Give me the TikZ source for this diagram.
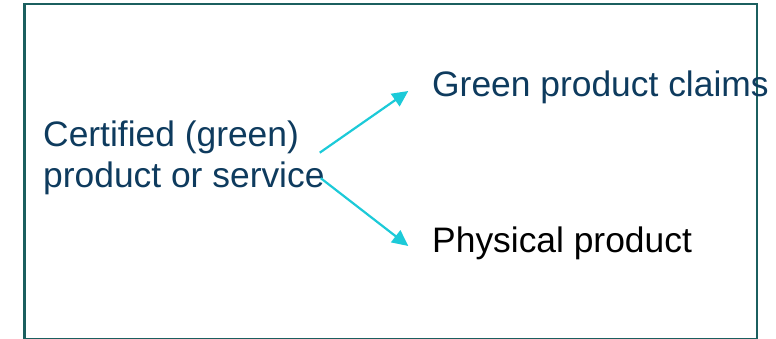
\documentclass[tikz,border=0pt]{standalone}
\usepackage{fontspec}
\setmainfont{Liberation Sans}
\usetikzlibrary{arrows.meta,calc}
\definecolor{txtblue}{HTML}{0E3B5E}
\definecolor{arrcyan}{HTML}{1CCAD8}
\definecolor{framecol}{HTML}{1B5F5F}
\tikzset{
  txt/.style={font=\fontsize{35.4}{40.5}\selectfont, inner sep=0pt, anchor=base west},
  arr/.style={draw=arrcyan, line width=2.2pt, -{Triangle[length=16pt,width=15pt]}, arrcyan},
}
\begin{document}
\begin{tikzpicture}[x=1pt,y=-1pt]
\useasboundingbox (0,0) rectangle (776,339);
\draw[framecol, line width=2pt] (24,4.5) rectangle (757,338.5);
\draw[framecol, line width=3pt] (24,3.5) -- (24,339);
\node[txt, text=txtblue, align=left] (src) at (43,187.2) {Certified (green)\\product or service};
\node[txt, text=txtblue] (claims) at (432,97) {Green product claims};
\node[txt, text=black] (phys) at (432,252) {Physical product};
\draw[arr] ($(src.base east)+(-5,-34.5)$) -- ($(claims.base west)+(-23.7,-6)$);
\draw[arr] ($(src.base east)+(-4,-9)$) -- ($(phys.base west)+(-23.7,-6)$);
\end{tikzpicture}
\end{document}
